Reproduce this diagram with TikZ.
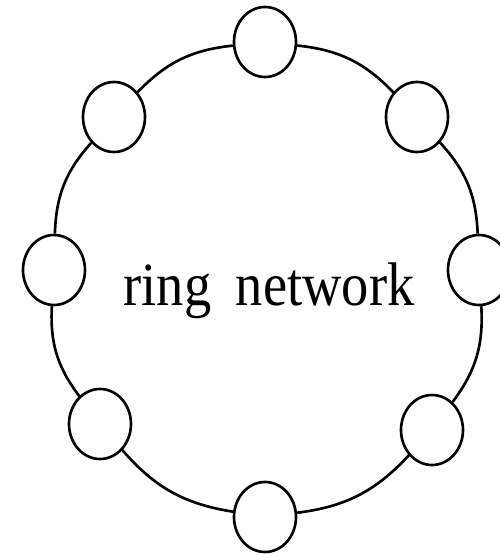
\documentclass[tikz,border=0pt]{standalone}
\usepackage{fontspec}
\setmainfont{Liberation Serif}
\usepackage{tikz}
\usetikzlibrary{shapes.geometric}
\tikzset{
  ringnode/.style={draw=black, line width=1.5pt, fill=white, ellipse, inner sep=0pt, minimum width=1.24cm, minimum height=1.4cm},
  ringlink/.style={draw=black, line width=1.5pt, bend left=20},
  ringlabel/.style={font=\fontsize{31pt}{37pt}\selectfont, text=black, inner sep=0pt, yscale=1.13}
}
\begin{document}
\begin{tikzpicture}
\useasboundingbox (-5.32,-5.48) rectangle (4.68,5.6);
\node[ringnode] (top) at (-0.02,4.76) {};
\node[ringnode] (upright) at (3.02,3.26) {};
\node[ringnode] (right) at (4.26,0.2) {};
\node[ringnode] (lowright) at (3.32,-3.0) {};
\node[ringnode] (bottom) at (-0.02,-4.74) {};
\node[ringnode] (lowleft) at (-3.32,-2.88) {};
\node[ringnode] (left) at (-4.24,0.2) {};
\node[ringnode] (upleft) at (-3.04,3.26) {};
\draw[ringlink] (top) to (upright);
\draw[ringlink] (upright) to (right);
\draw[ringlink] (right) to (lowright);
\draw[ringlink] (lowright) to (bottom);
\draw[ringlink] (bottom) to (lowleft);
\draw[ringlink] (lowleft) to (left);
\draw[ringlink] (left) to (upleft);
\draw[ringlink] (upleft) to (top);
\node[ringlabel, anchor=base] (name) at (0.06,-0.5) {ring\hspace{0.45em}network};
\end{tikzpicture}
\end{document}
